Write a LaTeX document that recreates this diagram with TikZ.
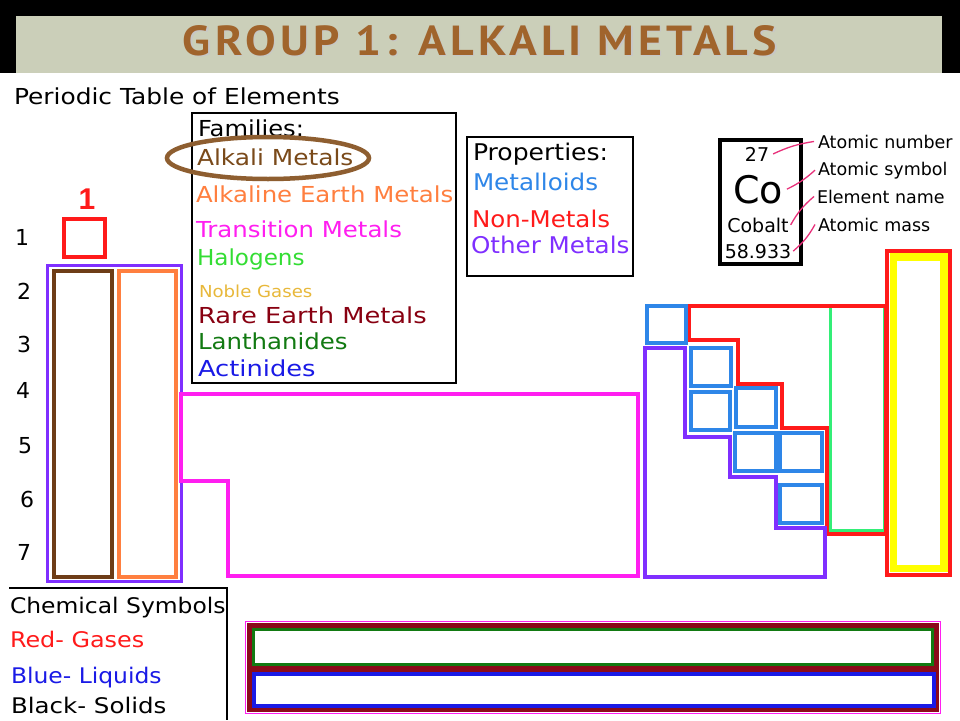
\documentclass[tikz,border=0pt]{standalone}
\usepackage{fontspec}
\setmainfont{DejaVu Sans}
\newfontfamily\titlefont[LetterSpace=9]{PT Sans}
\newfontfamily\numfont{Liberation Sans}
\definecolor{titlegrey}{HTML}{CBCFB9}
\definecolor{titlebrown}{HTML}{A0642C}
\definecolor{alkbrown}{HTML}{6E3D17}
\definecolor{alktext}{HTML}{7A4A1A}
\definecolor{ellbrown}{HTML}{8E5E30}
\definecolor{alkorange}{HTML}{FF7F3F}
\definecolor{transmag}{HTML}{FF1EF0}
\definecolor{haltext}{HTML}{33DD33}
\definecolor{noblegold}{HTML}{E8B83A}
\definecolor{rarered}{HTML}{880011}
\definecolor{lanthgreen}{HTML}{127A12}
\definecolor{actblue}{HTML}{1A1AE6}
\definecolor{metblue}{HTML}{2E86E8}
\definecolor{nmred}{HTML}{FF1A1A}
\definecolor{othpurple}{HTML}{7F2FFF}
\definecolor{halline}{HTML}{33EE77}
\definecolor{pinkline}{HTML}{E8307A}
\definecolor{barmaroon}{HTML}{8B0A1A}
\definecolor{noblelemon}{HTML}{FFFF00}
\begin{document}
\begin{tikzpicture}[x=1pt,y=-1pt,
  every node/.style={inner sep=0pt, outer sep=0pt},
  famtext/.style={anchor=base west, font=\fontsize{22}{24}\selectfont},
  proptext/.style={anchor=base west, font=\fontsize{23}{25}\selectfont},
  rownum/.style={font=\fontsize{22}{24}\selectfont},
  eltext/.style={anchor=base, font=\fontsize{19}{22}\selectfont},
  keytext/.style={anchor=base west, font=\fontsize{17.5}{20}\selectfont},
  symtext/.style={anchor=base west, font=\fontsize{21.5}{24}\selectfont},
  pinkconn/.style={pinkline, line width=1.3pt},
  boxline/.style={line width=2.5pt}]
\useasboundingbox (0,0) rectangle (960,720);
\fill[white] (0,0) rectangle (960,720);
% title band
\fill[black] (0,0) rectangle (960,73);
\fill[titlegrey] (16,16) rectangle (942,73);
\node[anchor=base, text=black!22] (titleshadow) at (481.5,56.5) {\resizebox{594pt}{30pt}{\titlefont\bfseries GROUP 1: ALKALI METALS}};
\node[anchor=base, text=titlebrown] (title) at (480,55) {\resizebox{594pt}{30pt}{\titlefont\bfseries GROUP 1: ALKALI METALS}};
% heading
\node[anchor=base west, font=\fontsize{22}{24}\selectfont, xscale=1.13] (ptable) at (14,104) {Periodic Table of Elements};
% row numbers
\node[rownum] (r1) at (22,237) {1};
\node[rownum] (r2) at (24,291) {2};
\node[rownum] (r3) at (24,344) {3};
\node[rownum] (r4) at (23,390) {4};
\node[rownum] (r5) at (25,446) {5};
\node[rownum] (r6) at (27,499) {6};
\node[rownum] (r7) at (24,552) {7};
\node[font=\numfont\bfseries\fontsize{30}{32}\selectfont, text=nmred] (g1) at (87,199) {1};
% families box
\draw[boxline] (192,113) rectangle (456,383);
\node[famtext, xscale=1.1] (famhead) at (198,136) {Families:};
\node[famtext, xscale=1.13, text=alktext] (falk) at (197,165) {Alkali Metals};
\node[famtext, xscale=1.11, text=alkorange] (fae) at (196,202) {Alkaline Earth Metals};
\node[famtext, xscale=1.11, text=transmag] (ftr) at (196,237) {Transition Metals};
\node[famtext, xscale=1.05, text=haltext] (fhal) at (197,265) {Halogens};
\node[anchor=base west, font=\fontsize{16.5}{18}\selectfont, xscale=1.1, text=noblegold] (fnob) at (199,297) {Noble Gases};
\node[famtext, xscale=1.17, text=rarered] (frare) at (198,323) {Rare Earth Metals};
\node[famtext, xscale=1.11, text=lanthgreen] (flan) at (198,349) {Lanthanides};
\node[famtext, xscale=1.17, text=actblue] (fact) at (198,376) {Actinides};
\draw[ellbrown, line width=4.5pt] (268,158) ellipse [x radius=101pt, y radius=21pt];
% properties box
\draw[boxline] (467,137) rectangle (633,276);
\node[proptext, xscale=1.09] (phead) at (473,160) {Properties:};
\node[proptext, xscale=1.07, text=metblue] (pmet) at (473,190) {Metalloids};
\node[proptext, xscale=1.065, text=nmred] (pnon) at (472,227) {Non-Metals};
\node[proptext, xscale=1.07, text=othpurple] (poth) at (471,253) {Other Metals};
% element key
\draw[line width=4.5pt] (720,140) rectangle (801,264);
\node[eltext] (n27) at (757,161) {27};
\node[anchor=base, font=\fontsize{38}{40}\selectfont] (co) at (758,203) {Co};
\node[eltext] (cob) at (758,232) {Cobalt};
\node[eltext] (mass) at (758,258) {58.933};
\node[keytext] (lnum) at (818,148) {Atomic number};
\node[keytext] (lsym) at (818,175) {Atomic symbol};
\node[keytext] (lname) at (817,203) {Element name};
\node[keytext] (lmass) at (818,231) {Atomic mass};
\draw[pinkconn] ([xshift=4pt]n27.east) to[bend left=8] ([xshift=-4pt]lnum.west);
\draw[pinkconn] ([xshift=4pt]co.east) to[bend right=8] ([xshift=-3pt]lsym.west);
\draw[pinkconn] ([xshift=2pt]cob.east) to[bend left=10] ([xshift=-3pt]lname.west);
\draw[pinkconn] ([xshift=2pt]mass.east) to[bend right=10] ([xshift=-3pt]lmass.west);
% group 1 and 2
\draw[nmred, line width=4pt] (64,219) rectangle (105,257);
\draw[othpurple, line width=3pt] (47.5,265.5) rectangle (181.5,581.5);
\draw[alkbrown, line width=4pt] (54,271) rectangle (112,577);
\draw[alkorange, line width=4pt] (119,271) rectangle (176,577);
% transition metals
\draw[transmag, line width=4pt] (181,394) -- (638,394) -- (638,576) -- (228,576) -- (228,481) -- (181,481) -- cycle;
% right block
\draw[halline, line width=3pt] (830,306) rectangle (884,530);
\draw[nmred, line width=4.5pt, line join=miter] (689,306) -- (886,306) -- (886,534) -- (827,534) -- (827,428) -- (782,428) -- (782,384) -- (738,384) -- (738,340) -- (689,340) -- cycle;
\draw[nmred, line width=4pt] (887,250.5) rectangle (950,574.5);
\draw[noblelemon, line width=7.5pt] (893.5,257) rectangle (944,568.5);
\draw[othpurple, line width=4pt] (645,348) -- (685,348) -- (685,437) -- (730,437) -- (730,477) -- (776,477) -- (776,528) -- (825,528) -- (825,577) -- (645,577) -- cycle;
\begin{scope}[metblue, line width=4.5pt]
\draw (647,306) rectangle (686,343);
\draw (691,348) rectangle (731,386);
\draw (691,392) rectangle (730,430);
\draw (736,388) rectangle (776,427);
\draw (735,433) rectangle (776,471);
\draw (780,433) rectangle (822,471);
\draw (780,485) rectangle (822,523);
\end{scope}
% chemical symbols key
\draw[line width=2pt] (9,588) -- (227,588) -- (227,720);
\node[symtext, xscale=1.09] (csym) at (10,613) {Chemical Symbols};
\node[symtext, xscale=1.11, text=nmred] (cred) at (10,647) {Red- Gases};
\node[symtext, xscale=1.09, text=actblue] (cblue) at (11,683) {Blue- Liquids};
\node[symtext, xscale=1.14] (cblack) at (11,713) {Black- Solids};
% lanthanide / actinide rows
\draw[transmag, line width=1pt] (245.5,621.5) rectangle (940.5,713.5);
\fill[barmaroon] (247,623) rectangle (939,712);
\draw[lanthgreen, line width=3pt, fill=white] (253.5,629.5) rectangle (932.5,664.5);
\draw[actblue, line width=3.5pt, fill=white] (254,674) rectangle (934,706);
\end{tikzpicture}
\end{document}
